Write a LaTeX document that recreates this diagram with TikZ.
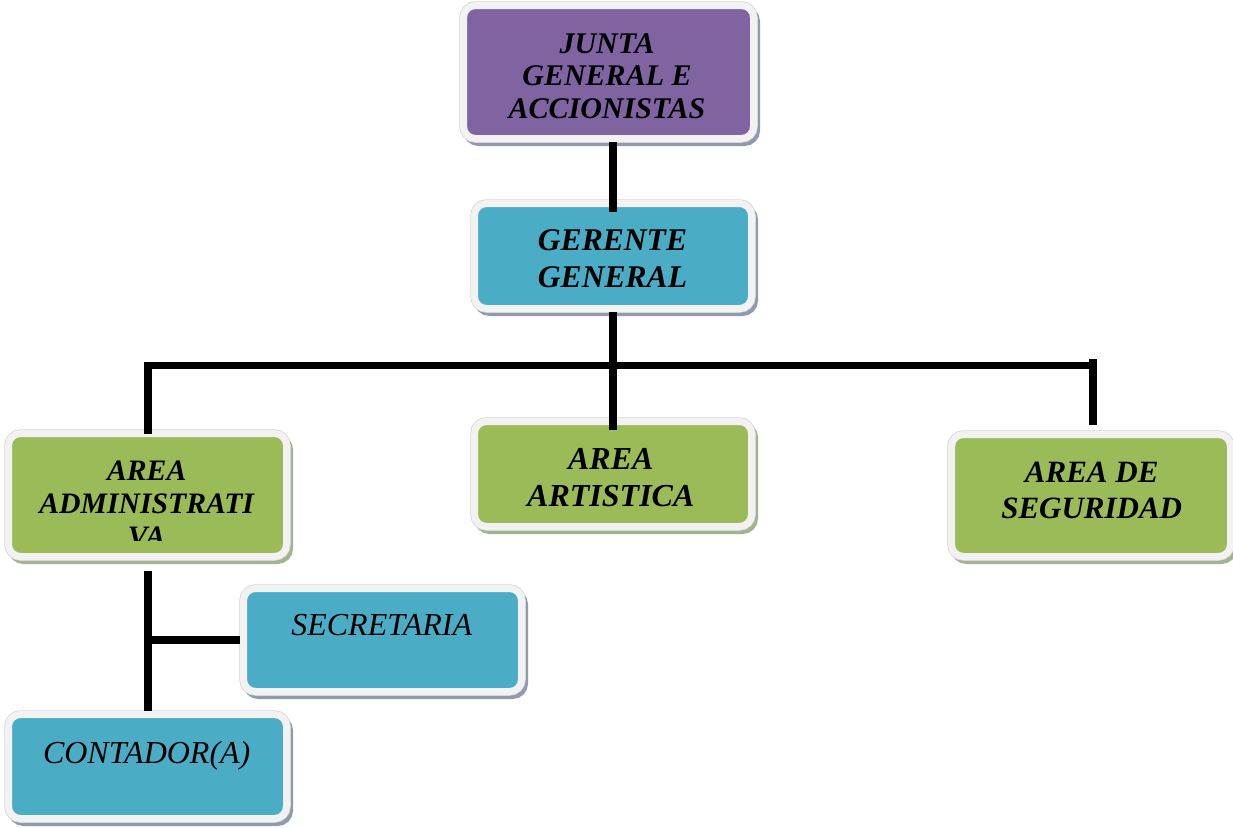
\documentclass[tikz,border=0pt]{standalone}
\usepackage{fontspec}
\setmainfont{Liberation Serif}
\usetikzlibrary{calc}
\definecolor{cpurple}{HTML}{8064A2}
\definecolor{cblue}{HTML}{4BACC6}
\definecolor{cgreen}{HTML}{9BBB59}
\definecolor{cborder}{HTML}{F2F2F2}
\definecolor{cedge}{HTML}{D4D4D4}
\definecolor{bshadow}{HTML}{8E9BAF}
\definecolor{gshadow}{HTML}{A4B290}
\tikzset{
  orgbox/.style n args={4}{fill=#1, minimum width=#2, minimum height=#3,
    preaction={draw=#4, fill=#4, line width=7pt, transform canvas={xshift=3pt,yshift=-4pt}},
    preaction={draw=cedge, line width=8.5pt},
    draw=cborder, line width=7pt, rounded corners=12pt, inner sep=0pt},
  lbl/.style={inner sep=0pt, align=center, anchor=base, text=black},
  conn/.style={draw=black, line width=8pt, line cap=butt}
}
\begin{document}
\begin{tikzpicture}[x=1pt,y=-1pt]
\useasboundingbox (0,0) rectangle (1233,827);
% boxes
\node[orgbox={cpurple}{290pt}{133pt}{bshadow}] (junta) at (608.5,72) {};
\node[orgbox={cblue}{277pt}{105pt}{bshadow}] (gerente) at (613,256) {};
\node[orgbox={cgreen}{278pt}{123pt}{gshadow}] (admin) at (147.5,495) {};
\node[orgbox={cgreen}{277pt}{105pt}{gshadow}] (artis) at (613,474) {};
\node[orgbox={cgreen}{279pt}{122pt}{gshadow}] (segur) at (1091,495.5) {};
\node[orgbox={cblue}{278pt}{103pt}{bshadow}] (secre) at (382.5,640) {};
\node[orgbox={cblue}{278pt}{104pt}{bshadow}] (conta) at (147.5,766.5) {};
% labels (base anchor = baseline of last line)
\node[lbl, font=\fontsize{30}{32.5}\selectfont\bfseries\itshape] (tjunta) at (607,118) {JUNTA\\GENERAL E\\ACCIONISTAS};
\node[lbl, font=\fontsize{31.6}{37}\selectfont\bfseries\itshape] (tgerente) at (612.5,287) {GERENTE\\GENERAL};
\begin{scope}
\clip (0,0) rectangle (1233,540);
\node[lbl, font=\fontsize{29.7}{33}\selectfont\bfseries\itshape] (tadmin) at (146.7,546) {AREA\\ADMINISTRATI\\VA};
\end{scope}
\node[lbl, font=\fontsize{32}{37}\selectfont\bfseries\itshape] (tartis) at (610.8,506) {AREA\\ARTISTICA};
\node[lbl, font=\fontsize{31}{36}\selectfont\bfseries\itshape] (tsegur) at (1091.7,518) {AREA DE\\SEGURIDAD};
\node[lbl, font=\fontsize{32}{37}\selectfont\itshape] (tsecre) at (381.7,635) {SECRETARIA};
\node[lbl, font=\fontsize{32}{37}\selectfont\itshape] (tconta) at (146.7,763) {CONTADOR(A)};
% connectors
\coordinate (bus) at (613,365.5);
\draw[conn] (gerente.north |- junta.south) -- ([yshift=-12pt]gerente.north);
\draw[conn] (gerente.south) -- ([yshift=-12pt]artis.north);
\draw[conn, line width=7.5pt] ([xshift=-4pt]admin.north |- bus) -- ([xshift=5.5pt]segur.north |- bus);
\draw[conn] ([yshift=-4pt]admin.north) -- ([yshift=3.5pt]admin.north |- bus);
\draw[conn] ([xshift=1.5pt,yshift=6pt]segur.north) -- ([xshift=1.5pt,yshift=6.5pt]segur.north |- bus);
\draw[conn] ([yshift=-11pt]admin.south) -- (conta.north);
\draw[conn, line width=7.5pt] (secre.west) -- (admin.south |- secre.west);
\end{tikzpicture}
\end{document}
